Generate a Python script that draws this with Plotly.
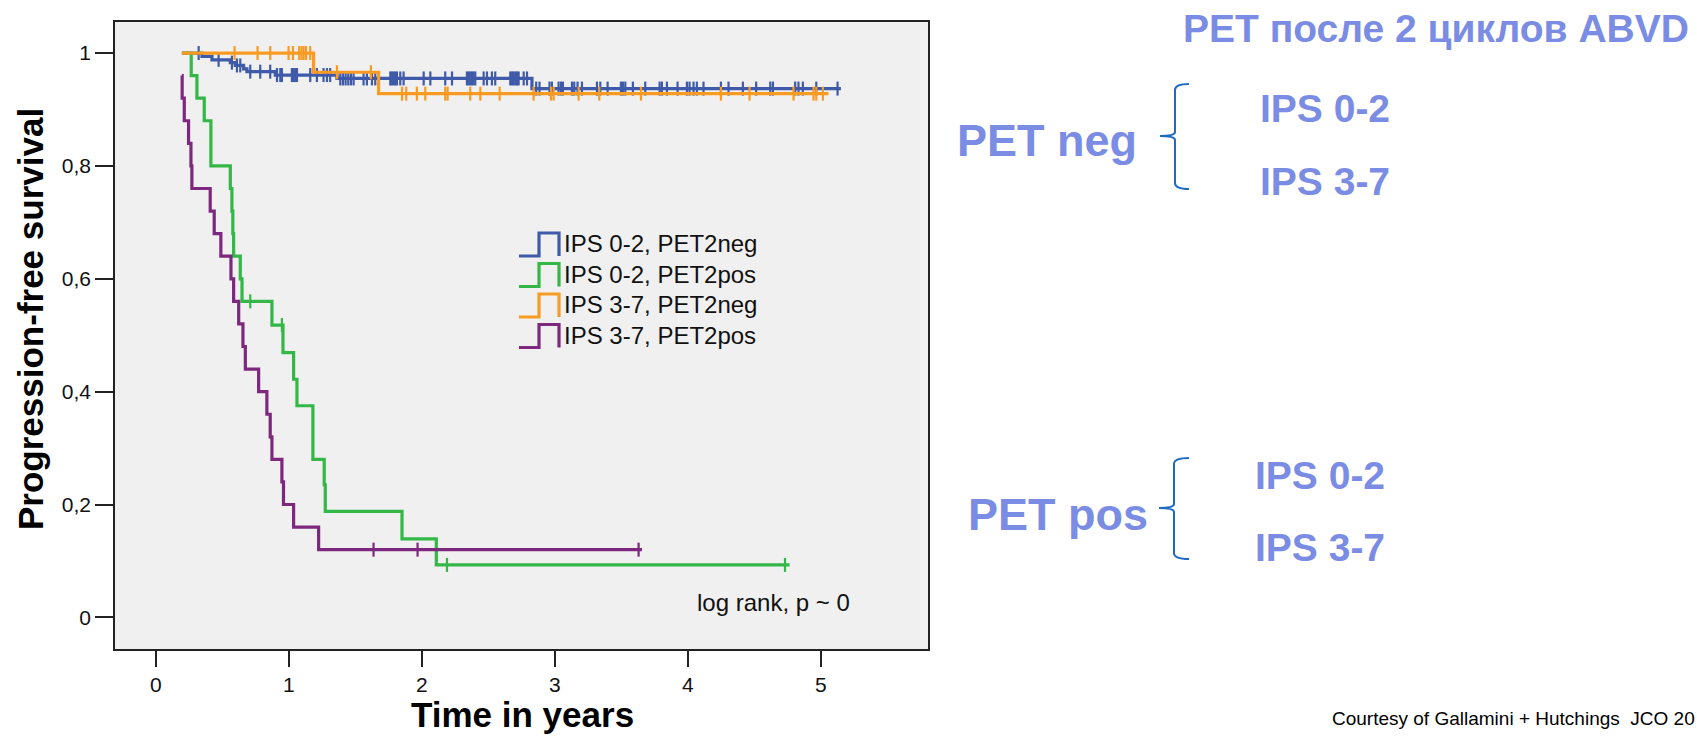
import numpy as np
import plotly.graph_objects as go

# ---------------- data ----------------
series_names = ["IPS 0-2, PET2neg", "IPS 0-2, PET2pos", "IPS 3-7, PET2neg", "IPS 3-7, PET2pos"]
series_colors = ["#3F5AA9", "#33B847", "#F99B22", "#7D287E"]

# IPS 0-2, PET2neg (blue)
blue_t = [0.195, 0.346, 0.421, 0.559, 0.596, 0.659, 0.684, 0.897, 1.361, 2.827, 5.15]
blue_s = [1.0, 0.994, 0.988, 0.983, 0.978, 0.972, 0.967, 0.961, 0.955, 0.937, 0.937]
blue_cens = [0.321, 0.471, 0.571, 0.609, 0.634, 0.709, 0.784, 0.859, 0.91, 0.935, 0.947,
             1.022, 1.035, 1.047, 1.06, 1.16, 1.21, 1.26, 1.286, 1.31, 1.386, 1.406, 1.426,
             1.446, 1.466, 1.486, 1.561, 1.586, 1.624, 1.649, 1.762, 1.774, 1.787, 1.799,
             1.812, 1.837, 1.862, 2.013, 2.063, 2.175, 2.226, 2.338, 2.351, 2.363, 2.376,
             2.388, 2.401, 2.464, 2.489, 2.526, 2.551, 2.664, 2.677, 2.689, 2.702, 2.714,
             2.727, 2.765, 2.79, 2.859, 2.884, 2.959, 2.977, 3.027, 3.045, 3.06, 3.128,
             3.145, 3.17, 3.203, 3.316, 3.341, 3.396, 3.496, 3.511, 3.529, 3.586, 3.679,
             3.787, 3.804, 3.842, 3.922, 3.992, 4.012, 4.042, 4.067, 4.117, 4.248, 4.305,
             4.413, 4.513, 4.619, 4.639, 4.806, 4.831, 4.864, 4.965, 5.125]

# IPS 0-2, PET2pos (green)
green_t = [0.195, 0.265, 0.308, 0.363, 0.413, 0.559, 0.571, 0.578, 0.584, 0.634, 0.647,
           0.872, 0.955, 1.035, 1.06, 1.18, 1.265, 1.273, 1.85, 2.108, 4.764]
green_s = [1.0, 0.96, 0.92, 0.88, 0.80, 0.76, 0.72, 0.68, 0.64, 0.60, 0.56,
           0.518, 0.469, 0.422, 0.375, 0.28, 0.235, 0.188, 0.139, 0.093, 0.093]
green_cens = [0.709, 0.947, 2.188, 4.73]

# IPS 3-7, PET2neg (orange)
orange_t = [0.195, 1.185, 1.674, 5.057]
orange_s = [1.0, 0.966, 0.928, 0.928]
orange_cens = [0.591, 0.764, 0.859, 0.997, 1.030, 1.077, 1.095, 1.110, 1.128, 1.160, 1.361,
               1.616, 1.85, 1.882, 1.962, 2.025, 2.175, 2.193, 2.363, 2.439, 2.584, 2.839,
               2.97, 2.99, 3.178, 3.333, 3.647, 4.248, 4.463, 4.794, 4.944, 4.965, 5.015]

# IPS 3-7, PET2pos (purple)
purple_t = [0.195, 0.197, 0.213, 0.245, 0.263, 0.27, 0.408, 0.438, 0.488, 0.564, 0.584,
            0.622, 0.654, 0.672, 0.772, 0.834, 0.859, 0.872, 0.947, 0.959, 1.035, 1.223, 3.654]
purple_s = [0.96, 0.92, 0.88, 0.84, 0.80, 0.76, 0.72, 0.68, 0.64, 0.60, 0.56,
            0.52, 0.48, 0.44, 0.40, 0.36, 0.32, 0.28, 0.24, 0.20, 0.16, 0.12, 0.12]
purple_cens = [1.636, 1.967, 3.629]

x_ticks = [0, 1, 2, 3, 4, 5]
y_ticks = [0, 0.2, 0.4, 0.6, 0.8, 1.0]
y_ticktext = ["0", "0,2", "0,4", "0,6", "0,8", "1"]

curves = [
    (blue_t, blue_s, blue_cens),
    (green_t, green_s, green_cens),
    (orange_t, orange_s, orange_cens),
    (purple_t, purple_s, purple_cens),
]

# ---------------- layout geometry (pixels) ----------------
W, H = 1697, 739
L, R, T, B = 115, 928, 22, 649
PW, PH = R - L, B - T
FONT = "Arial, Liberation Sans, sans-serif"
ACCENT = "#7A8CE4"
BRACE = "#1F6BC4"


def px(x):
    return (x - L) / PW


def py(y):
    return (B - y) / PH


def step_value(ts, ss, c):
    idx = np.searchsorted(np.asarray(ts), c, side="right") - 1
    idx = np.clip(idx, 0, len(ss) - 1)
    return np.asarray(ss)[idx]


fig = go.Figure()
for (ts, ss, cens), name, color in zip(curves, series_names, series_colors):
    fig.add_trace(go.Scatter(x=ts, y=ss, mode="lines", line=dict(color=color, width=3.2, shape="hv"),
                             name=name, showlegend=False, hoverinfo="skip"))
    fig.add_trace(go.Scatter(x=cens, y=step_value(ts, ss, cens), mode="markers",
                             marker=dict(symbol="line-ns-open", size=10, color=color,
                                         line=dict(color=color, width=2.2)),
                             showlegend=False, hoverinfo="skip"))

shapes = []
annotations = []

# custom legend with step-shaped icons
for i, (name, color) in enumerate(zip(series_names, series_colors)):
    yb = 256 + i * 30.5
    yt = yb - 23
    path = "M {:.5f},{:.5f} L {:.5f},{:.5f} L {:.5f},{:.5f} L {:.5f},{:.5f} L {:.5f},{:.5f}".format(
        px(519), py(yb), px(539), py(yb), px(539), py(yt), px(559), py(yt), px(559), py(yb))
    shapes.append(dict(type="path", xref="paper", yref="paper", path=path,
                       line=dict(color=color, width=3.2)))
    annotations.append(dict(x=px(562), y=py(243.5 + i * 30.5), xref="paper", yref="paper",
                            text=name, showarrow=False, xanchor="left", yanchor="middle",
                            font=dict(family=FONT, size=24, color="#111")))

annotations.append(dict(x=px(695), y=py(602), xref="paper", yref="paper", text="log rank, p ~ 0",
                        showarrow=False, xanchor="left", yanchor="middle",
                        font=dict(family=FONT, size=24, color="#111")))

# axis titles
annotations.append(dict(x=px(522), y=py(714), xref="paper", yref="paper", text="<b>Time in years</b>",
                        showarrow=False, xanchor="center", yanchor="middle",
                        font=dict(family=FONT, size=35, color="#000")))
annotations.append(dict(x=px(30), y=py(319), xref="paper", yref="paper",
                        text="<b>Progression-free survival</b>", textangle=-90,
                        showarrow=False, xanchor="center", yanchor="middle",
                        font=dict(family=FONT, size=35, color="#000")))

# right-hand side texts
right_texts = [
    ("<b>PET после 2 циклов ABVD</b>", 1436, 28, 39, "center"),
    ("<b>PET neg</b>", 1047, 141, 45, "center"),
    ("<b>IPS 0-2</b>", 1258, 109, 39, "left"),
    ("<b>IPS 3-7</b>", 1258, 181, 39, "left"),
    ("<b>PET pos</b>", 1058, 514, 45, "center"),
    ("<b>IPS 0-2</b>", 1253, 476, 39, "left"),
    ("<b>IPS 3-7</b>", 1253, 547, 39, "left"),
]
for txt, x, y, size, anchor in right_texts:
    annotations.append(dict(x=px(x), y=py(y), xref="paper", yref="paper", text=txt,
                            showarrow=False, xanchor=anchor, yanchor="middle",
                            font=dict(family=FONT, size=size, color=ACCENT)))

annotations.append(dict(x=px(1697), y=py(718), xref="paper", yref="paper",
                        text="Courtesy of Gallamini + Hutchings  JCO 20",
                        showarrow=False, xanchor="right", yanchor="middle",
                        font=dict(family=FONT, size=19, color="#000")))


def brace(xs, xa, xp, y0, ym, y1):
    pts = [
        "M {:.5f},{:.5f}".format(px(xa), py(y0)),
        "Q {:.5f},{:.5f} {:.5f},{:.5f}".format(px(xs), py(y0), px(xs), py(y0 + 6)),
        "L {:.5f},{:.5f}".format(px(xs), py(ym - 4)),
        "Q {:.5f},{:.5f} {:.5f},{:.5f}".format(px(xs), py(ym), px(xp), py(ym)),
        "Q {:.5f},{:.5f} {:.5f},{:.5f}".format(px(xs), py(ym), px(xs), py(ym + 4)),
        "L {:.5f},{:.5f}".format(px(xs), py(y1 - 6)),
        "Q {:.5f},{:.5f} {:.5f},{:.5f}".format(px(xs), py(y1), px(xa), py(y1)),
    ]
    return dict(type="path", xref="paper", yref="paper", path=" ".join(pts),
                line=dict(color=BRACE, width=2))


shapes.append(brace(1175, 1189, 1160, 84, 136, 189))
shapes.append(brace(1174, 1189, 1159, 458, 508, 559))

axis_common = dict(showline=True, mirror=True, linecolor="#222", linewidth=1.5,
                   ticks="outside", tickcolor="#222", tickwidth=1.5,
                   showgrid=False, zeroline=False)

fig.update_layout(
    width=W, height=H, autosize=False,
    margin=dict(l=L, r=W - R, t=T, b=H - B, pad=0),
    paper_bgcolor="white", plot_bgcolor="#F0F0F0",
    showlegend=False,
    shapes=shapes, annotations=annotations,
    xaxis=dict(range=[-0.308, 5.805], tickvals=x_ticks, ticklen=16,
               tickfont=dict(family=FONT, size=21, color="#111"), **axis_common),
    yaxis=dict(range=[-0.056, 1.055], tickvals=y_ticks, ticktext=y_ticktext, ticklen=18,
               tickfont=dict(family=FONT, size=21, color="#111"), **axis_common),
    font=dict(family=FONT),
)

fig.write_html("out.html")
